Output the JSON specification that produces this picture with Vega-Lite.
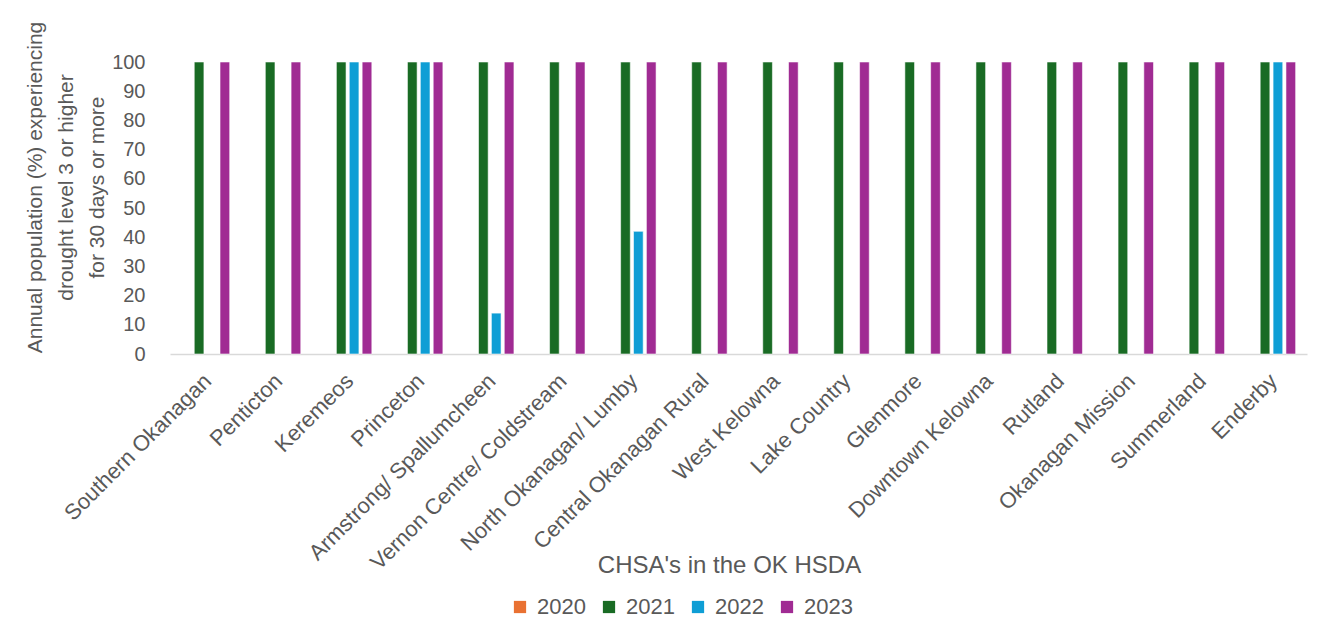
{
  "$schema": "https://vega.github.io/schema/vega-lite/v6.json",
  "width": 1137,
  "height": 292,
  "autosize": {"type": "none"},
  "padding": {"left": 170, "top": 62, "right": 27, "bottom": 285},
  "background": "white",
  "config": {
    "font": "Liberation Sans",
    "view": {"stroke": null}
  },
  "data": {
    "values": [
      {"chsa": "Southern Okanagan", "year": "2020", "pct": 0},
      {"chsa": "Southern Okanagan", "year": "2021", "pct": 100},
      {"chsa": "Southern Okanagan", "year": "2022", "pct": 0},
      {"chsa": "Southern Okanagan", "year": "2023", "pct": 100},
      {"chsa": "Penticton", "year": "2020", "pct": 0},
      {"chsa": "Penticton", "year": "2021", "pct": 100},
      {"chsa": "Penticton", "year": "2022", "pct": 0},
      {"chsa": "Penticton", "year": "2023", "pct": 100},
      {"chsa": "Keremeos", "year": "2020", "pct": 0},
      {"chsa": "Keremeos", "year": "2021", "pct": 100},
      {"chsa": "Keremeos", "year": "2022", "pct": 100},
      {"chsa": "Keremeos", "year": "2023", "pct": 100},
      {"chsa": "Princeton", "year": "2020", "pct": 0},
      {"chsa": "Princeton", "year": "2021", "pct": 100},
      {"chsa": "Princeton", "year": "2022", "pct": 100},
      {"chsa": "Princeton", "year": "2023", "pct": 100},
      {"chsa": "Armstrong/ Spallumcheen", "year": "2020", "pct": 0},
      {"chsa": "Armstrong/ Spallumcheen", "year": "2021", "pct": 100},
      {"chsa": "Armstrong/ Spallumcheen", "year": "2022", "pct": 14},
      {"chsa": "Armstrong/ Spallumcheen", "year": "2023", "pct": 100},
      {"chsa": "Vernon Centre/ Coldstream", "year": "2020", "pct": 0},
      {"chsa": "Vernon Centre/ Coldstream", "year": "2021", "pct": 100},
      {"chsa": "Vernon Centre/ Coldstream", "year": "2022", "pct": 0},
      {"chsa": "Vernon Centre/ Coldstream", "year": "2023", "pct": 100},
      {"chsa": "North Okanagan/ Lumby", "year": "2020", "pct": 0},
      {"chsa": "North Okanagan/ Lumby", "year": "2021", "pct": 100},
      {"chsa": "North Okanagan/ Lumby", "year": "2022", "pct": 42},
      {"chsa": "North Okanagan/ Lumby", "year": "2023", "pct": 100},
      {"chsa": "Central Okanagan Rural", "year": "2020", "pct": 0},
      {"chsa": "Central Okanagan Rural", "year": "2021", "pct": 100},
      {"chsa": "Central Okanagan Rural", "year": "2022", "pct": 0},
      {"chsa": "Central Okanagan Rural", "year": "2023", "pct": 100},
      {"chsa": "West Kelowna", "year": "2020", "pct": 0},
      {"chsa": "West Kelowna", "year": "2021", "pct": 100},
      {"chsa": "West Kelowna", "year": "2022", "pct": 0},
      {"chsa": "West Kelowna", "year": "2023", "pct": 100},
      {"chsa": "Lake Country", "year": "2020", "pct": 0},
      {"chsa": "Lake Country", "year": "2021", "pct": 100},
      {"chsa": "Lake Country", "year": "2022", "pct": 0},
      {"chsa": "Lake Country", "year": "2023", "pct": 100},
      {"chsa": "Glenmore", "year": "2020", "pct": 0},
      {"chsa": "Glenmore", "year": "2021", "pct": 100},
      {"chsa": "Glenmore", "year": "2022", "pct": 0},
      {"chsa": "Glenmore", "year": "2023", "pct": 100},
      {"chsa": "Downtown Kelowna", "year": "2020", "pct": 0},
      {"chsa": "Downtown Kelowna", "year": "2021", "pct": 100},
      {"chsa": "Downtown Kelowna", "year": "2022", "pct": 0},
      {"chsa": "Downtown Kelowna", "year": "2023", "pct": 100},
      {"chsa": "Rutland", "year": "2020", "pct": 0},
      {"chsa": "Rutland", "year": "2021", "pct": 100},
      {"chsa": "Rutland", "year": "2022", "pct": 0},
      {"chsa": "Rutland", "year": "2023", "pct": 100},
      {"chsa": "Okanagan Mission", "year": "2020", "pct": 0},
      {"chsa": "Okanagan Mission", "year": "2021", "pct": 100},
      {"chsa": "Okanagan Mission", "year": "2022", "pct": 0},
      {"chsa": "Okanagan Mission", "year": "2023", "pct": 100},
      {"chsa": "Summerland", "year": "2020", "pct": 0},
      {"chsa": "Summerland", "year": "2021", "pct": 100},
      {"chsa": "Summerland", "year": "2022", "pct": 0},
      {"chsa": "Summerland", "year": "2023", "pct": 100},
      {"chsa": "Enderby", "year": "2020", "pct": 0},
      {"chsa": "Enderby", "year": "2021", "pct": 100},
      {"chsa": "Enderby", "year": "2022", "pct": 100},
      {"chsa": "Enderby", "year": "2023", "pct": 100}
    ]
  },
  "mark": {"type": "bar", "stroke": "white", "strokeWidth": 0.8},
  "encoding": {
    "x": {
      "field": "chsa",
      "type": "nominal",
      "sort": null,
      "scale": {"paddingInner": 0.32, "paddingOuter": 0.16},
      "axis": {
        "title": "CHSA's in the OK HSDA",
        "titleFontSize": 24,
        "titleFontWeight": "normal",
        "titleColor": "#595959",
        "titleX": 559,
        "titleY": 211,
        "titleBaseline": "middle",
        "labelAngle": -45,
        "labelFontSize": 22,
        "labelColor": "#595959",
        "labelPadding": 16,
        "labelOffset": -5,
        "labelLimit": 400,
        "ticks": false,
        "domainColor": "#d9d9d9",
        "domainWidth": 1.5
      }
    },
    "xOffset": {
      "field": "year",
      "type": "nominal",
      "sort": ["2020", "2021", "2022", "2023"],
      "scale": {"paddingInner": 0.25, "paddingOuter": 0}
    },
    "y": {
      "field": "pct",
      "type": "quantitative",
      "scale": {"domain": [0, 100]},
      "axis": {
        "title": ["Annual population (%) experiencing", "drought level 3 or higher", "for 30 days or more"],
        "titleFontSize": 21,
        "titleFontWeight": "normal",
        "titleColor": "#595959",
        "titleAngle": -90,
        "titleAlign": "center",
        "titleBaseline": "middle",
        "titleLineHeight": 31,
        "titleX": -135,
        "titleY": 125,
        "values": [0, 10, 20, 30, 40, 50, 60, 70, 80, 90, 100],
        "labelFontSize": 20,
        "labelColor": "#595959",
        "labelPadding": 25,
        "ticks": false,
        "tickSize": 0,
        "domain": false,
        "grid": false
      }
    },
    "strokeOpacity": {
      "condition": {"test": "datum.pct == 0", "value": 0},
      "value": 0.7
    },
    "color": {
      "field": "year",
      "type": "nominal",
      "scale": {
        "domain": ["2020", "2021", "2022", "2023"],
        "range": ["#E97132", "#196B24", "#0F9ED5", "#A02B93"]
      },
      "legend": {
        "title": null,
        "orient": "none",
        "direction": "horizontal",
        "legendX": 339,
        "legendY": 534,
        "symbolType": "square",
        "symbolSize": 150,
        "symbolStrokeWidth": 0,
        "labelFontSize": 22,
        "labelColor": "#595959",
        "labelOffset": 6,
        "columnPadding": 12
      }
    }
  }
}
